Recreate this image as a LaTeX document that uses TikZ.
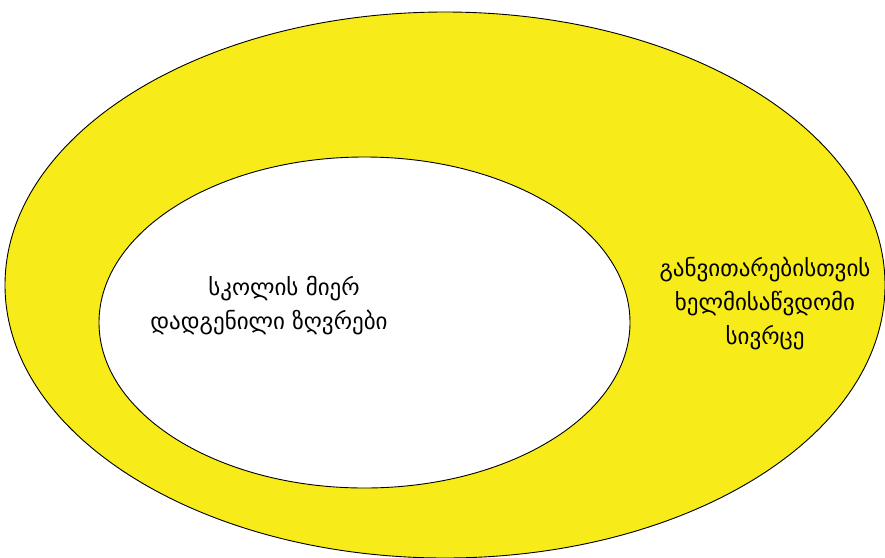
\documentclass[tikz,border=0pt]{standalone}
\usepackage{fontspec}
\newfontfamily\geo[Script=Georgian]{DejaVu Sans}
\definecolor{fillyellow}{HTML}{F7EC1A}
\begin{document}
\begin{tikzpicture}[x=1pt,y=-1pt,
  blob/.style={draw=black,line width=0.9pt},
  lbl/.style={font=\geo\fontsize{23}{34}\selectfont,align=center,inner sep=0pt}]
\useasboundingbox (0,0) rectangle (885,557);
\begin{scope}
\clip (0,0) rectangle (885,557);
\draw[blob,fill=fillyellow] (445,285) ellipse [x radius=440,y radius=273];
\end{scope}
\draw[blob,fill=white] (364.5,322.5) ellipse [x radius=265.5,y radius=165.5];
\node[lbl] (s1) at (284,289) {სკოლის მიერ};
\node[lbl] (s2) at (269,323) {დადგენილი ზღვრები};
\node[lbl] (r) at (765,304) {განვითარებისთვის\\ხელმისაწვდომი\\სივრცე};
\end{tikzpicture}
\end{document}
